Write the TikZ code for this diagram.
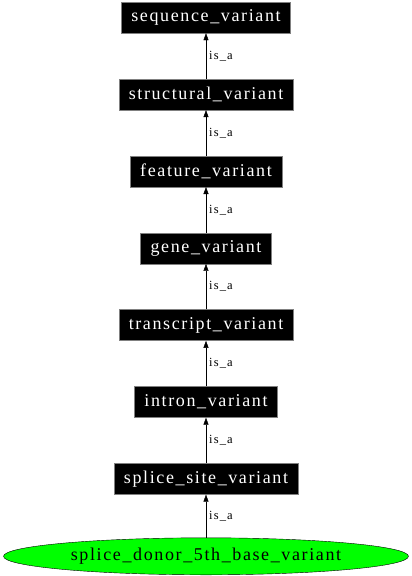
\documentclass[tikz,border=0pt]{standalone}
\usepackage{fontspec}
\setmainfont{Liberation Serif}
\newfontfamily\termfont[LetterSpace=9]{Liberation Serif}
\usetikzlibrary{shapes,positioning,arrows.meta}
\definecolor{termgreen}{rgb}{0.00,1.00,0.00}

\begin{document}
\begin{tikzpicture}[x=1pt,y=1pt,
  every node/.style={font=\termfont\fontsize{18}{21}\selectfont},
  term/.style={rectangle,fill=black,draw=gray,text=white,minimum height=31pt,inner xsep=10pt,inner ysep=2pt},
  leaf/.style={ellipse,fill=termgreen,draw=black,minimum height=37pt,minimum width=405pt,inner sep=0pt},
  isa/.style={draw,thin,-{Triangle[length=7pt,width=5pt]}},
  rel/.style={right,font=\termfont\fontsize{12.5}{14}\selectfont,inner sep=3pt}]
\useasboundingbox (0,0) rectangle (412,-576);

\node[term] (seq) at (206,-17.5) {sequence\_variant};
\node[term,below=45.5pt of seq] (struct) {structural\_variant};
\node[term,below=45.5pt of struct] (feat) {feature\_variant};
\node[term,below=45.5pt of feat] (gene) {gene\_variant};
\node[term,below=45.5pt of gene] (trans) {transcript\_variant};
\node[term,below=45.5pt of trans] (intron) {intron\_variant};
\node[term,below=45.5pt of intron] (site) {splice\_site\_variant};
\node[leaf,below=43pt of site] (donor) {splice\_donor\_5th\_base\_variant};

\draw[isa] (struct) -- node[rel] {is\_a} (seq);
\draw[isa] (feat) -- node[rel] {is\_a} (struct);
\draw[isa] (gene) -- node[rel] {is\_a} (feat);
\draw[isa] (trans) -- node[rel] {is\_a} (gene);
\draw[isa] (intron) -- node[rel] {is\_a} (trans);
\draw[isa] (site) -- node[rel] {is\_a} (intron);
\draw[isa] (donor) -- node[rel] {is\_a} (site);
\end{tikzpicture}
\end{document}
